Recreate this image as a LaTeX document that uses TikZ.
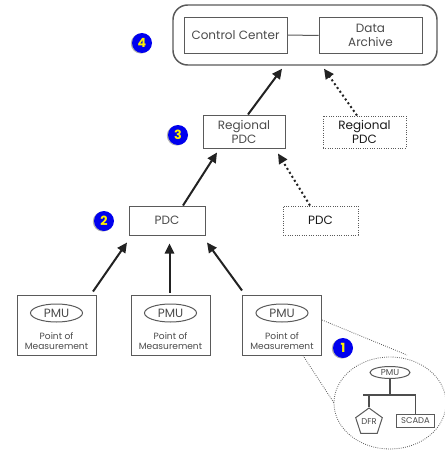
\documentclass[tikz,border=0pt]{standalone}
\usepackage{fontspec}
\setmainfont{Poppins}
\usetikzlibrary{arrows.meta,shapes.geometric,calc}
\definecolor{boxc}{HTML}{5A5A5A}
\definecolor{txtc}{HTML}{4A4A4A}
\definecolor{arrc}{HTML}{222222}
\definecolor{badgec}{HTML}{0000EE}
\begin{document}
\begin{tikzpicture}[x=0.75pt,y=-0.75pt,
  box/.style={draw=boxc, line width=0.75pt, rectangle, inner sep=0pt, text=txtc, align=center, font=\fontsize{9}{10.5}\selectfont},
  dbox/.style={box, densely dotted, text=black!90},
  arr/.style={draw=arrc, line width=1.5pt, -{Triangle[length=7.5pt,width=7pt]}},
  darr/.style={arr, dotted},
  badge/.style={circle, fill=badgec, text=yellow, inner sep=0pt, minimum size=15pt, font=\fontsize{9.5}{9.5}\selectfont\bfseries},
  shadowc/.style={circle, fill=black!30, inner sep=0pt, minimum size=15pt},
  pmuell/.style={ellipse, draw=boxc, line width=0.75pt, inner sep=0pt, text=txtc, font=\fontsize{9}{9}\selectfont},
  small/.style={text=txtc, align=center, font=\fontsize{6.8}{8}\selectfont, inner sep=0pt},
  thin/.style={draw=boxc, line width=0.6pt, densely dotted},
  bus/.style={draw=arrc!80, line width=0.9pt}]
\useasboundingbox (0,0) rectangle (444,450);

% level 4
\node[box, draw=arrc!75, line width=1.1pt, rounded corners=11pt, minimum width=198pt, minimum height=45pt] (outer) at (305,35) {};
\node[box, minimum width=77.25pt, minimum height=27pt] (cc) at (235.5,35) {Control Center};
\node[box, minimum width=77.25pt, minimum height=26.5pt] (da) at (370.5,35.5) {Data\\Archive};
\draw[draw=boxc, line width=0.75pt] (cc) -- (da);

% level 3
\node[box, minimum width=61.5pt, minimum height=24.75pt] (rpdc) at (244,131.5) {Regional\\PDC};
\node[dbox, minimum width=62.25pt, minimum height=24pt] (drpdc) at (364.5,132) {Regional\\PDC};

% level 2
\node[box, minimum width=57pt, minimum height=21.75pt] (pdc) at (167,220.5) {PDC};
\node[dbox, minimum width=56.25pt, minimum height=21.75pt] (dpdc) at (320.5,220.5) {PDC};

% level 1
\foreach \n/\x in {p1/56.5, p2/170.5, p3/282}{
  \node[box, minimum width=59.25pt, minimum height=45pt] (\n) at (\x,325) {};
  \node[pmuell, minimum width=39pt, minimum height=13.5pt] (\n e) at (\x,313) {PMU};
  \node[small] (\n t) at (\x,341) {Point of\\Measurement};
}

% arrows
\draw[arr] ($(rpdc.north)+(4,0)$) -- ($(outer.south)+(-23,3)$);
\draw[darr] ($(drpdc.north)+(-7.5,0)$) -- ($(outer.south)+(19,3)$);
\draw[arr] ($(pdc.north)+(16,0)$) -- ($(rpdc.south)+(-27,4)$);
\draw[darr] ($(dpdc.north)+(-10.5,0)$) -- ($(rpdc.south)+(34,5)$);
\draw[arr] ($(p1.north)+(36.5,-3)$) -- ($(pdc.south)+(-40,7)$);
\draw[arr] ($(p2.north)+(-1,-2)$) -- ($(pdc.south)+(2.5,8)$);
\draw[arr] ($(p3.north)+(-40,-4)$) -- ($(pdc.south)+(40,7)$);

% inset
\node[ellipse, thin, minimum width=84pt, minimum height=69pt, inner sep=0pt] (zoomc) at (390,403) {};
\coordinate (zt) at (407,355);
\coordinate (zl) at (334,403);
\draw[thin] ($(p3.east)+(0,-5)$) -- (zt);
\draw[thin] ($(p3.south)+(21,0)$) -- (zl);
\node[pmuell, minimum width=30pt, minimum height=9pt, font=\fontsize{6.5}{6.5}\selectfont] (ipmu) at (390,372.5) {PMU};
\coordinate (busm) at (390,395);
\coordinate (busl) at (363,395);
\coordinate (busr) at (416,395);
\node[regular polygon, regular polygon sides=5, draw=boxc, line width=0.75pt, inner sep=0pt, minimum size=21pt, text=txtc, font=\fontsize{6.3}{6.3}\selectfont] (dfr) at (369,422) {DFR};
\node[box, minimum width=28pt, minimum height=9.5pt, font=\fontsize{6.3}{6.3}\selectfont] (scada) at (415.5,421) {SCADA};
\draw[bus] (ipmu.south) -- (busm);
\draw[bus] (busl) -- (busr);
\draw[bus] (busl -| dfr.north) -- (dfr.north);
\draw[bus] (busr -| scada.north) -- (scada.north);

% badges
\foreach \n/\x/\y/\t in {b4/142/43/4, b3/178/135/3, b2/104/221/2, b1/343/348/1}{
  \node[shadowc] at (\x-1.2,\y+0.6) {};
  \node[badge] (\n) at (\x,\y) {\t};
}
\end{tikzpicture}
\end{document}
